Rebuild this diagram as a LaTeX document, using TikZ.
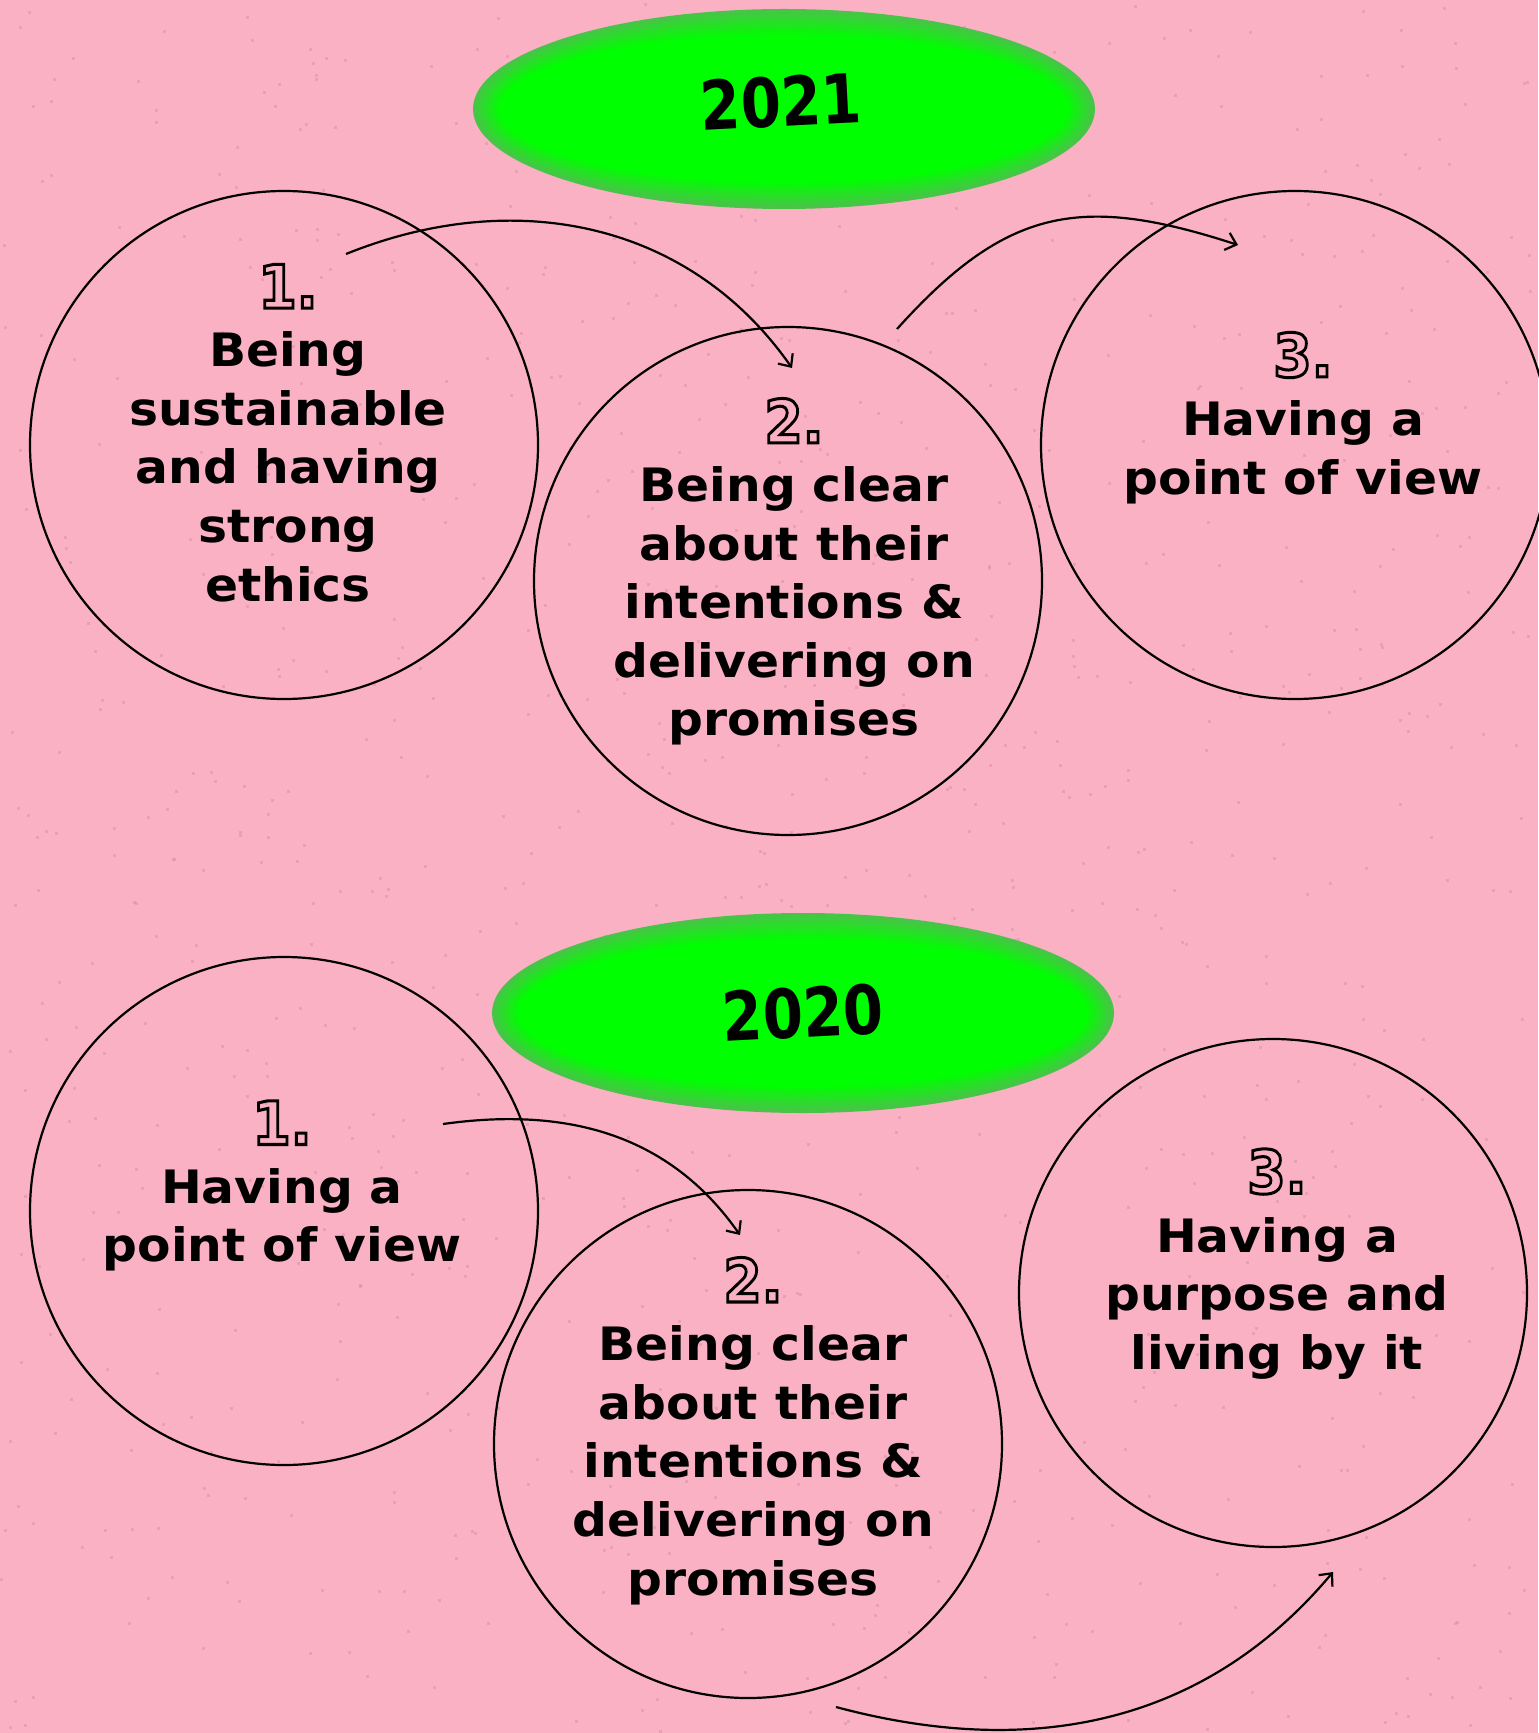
\documentclass[tikz,border=0pt]{standalone}
\usepackage{fontspec}
\usepackage{graphicx}
\setmainfont{DejaVu Sans}[FakeStretch=1.06]
\newfontfamily\numfont{DejaVu Sans}
\usetikzlibrary{arrows.meta}

\definecolor{paper}{RGB}{250,177,196}
\definecolor{speck}{RGB}{214,140,165}
\definecolor{lime}{RGB}{0,255,0}
\definecolor{limeedge}{RGB}{72,196,72}

% hollow numbers: stroke the glyph outlines only
\newcommand{\hollow}[1]{{\numfont\bfseries\fontsize{30}{30}\selectfont
  \special{pdf:literal direct 1 Tr 1.5 w}\scalebox{0.92}[1]{#1}\special{pdf:literal direct 0 Tr}}}
\newcommand{\yeartext}[1]{\scalebox{0.85}[1]{#1}}

\begin{document}
\begin{tikzpicture}[x=0.5pt, y=0.5pt,
  ring/.style={draw, circle, line width=1.1pt, minimum size=254pt, inner sep=0pt},
  words/.style={align=center, inner sep=0pt, font=\bfseries\fontsize{23}{29.3}\selectfont},
  year/.style={inner sep=0pt, rotate=3, font=\numfont\bfseries\fontsize{34}{34}\selectfont},
  link/.style={line width=1.1pt, -{Straight Barb[length=5pt, width=9pt]}}]

\useasboundingbox (0,0) rectangle (1538,-1733);
\fill[paper] (0,0) rectangle (1538,-1733);

% grain
\pgfmathsetseed{11}
\foreach \k in {1,...,900}
  \fill[speck, opacity=0.45] (rnd*1538, -rnd*1733) rectangle ++(3,-3);

% green year blobs
\coordinate (e21) at (784,-109);
\coordinate (e20) at (803,-1013);
\foreach \e in {e21, e20} {
  \foreach \i in {0,...,10} {
    \pgfmathtruncatemacro\mix{\i*10}
    \fill[lime!\mix!limeedge] (\e) ellipse ({311-\i*2.6} and {100-\i*2.6});
  }
}
\node[year] (y21) at (781,-102) {\yeartext{2021}};
\node[year] (y20) at (803,-1013) {\yeartext{2020}};

% 2021 row
\node[ring] (a1) at (284,-445) {};
\node[ring] (a2) at (788,-581) {};
\node[ring] (a3) at (1295,-445) {};

\node[words] (w1) at (288,-433) {\hollow{1.}\\Being\\sustainable\\and having\\strong\\ethics};
\node[words] (w2) at (794,-572) {\hollow{2.}\\Being clear\\about their\\intentions \&\\delivering on\\promises};
\node[words] (w3) at (1303,-418) {\hollow{3.}\\Having a\\point of view};

% 2020 row
\node[ring] (b1) at (284,-1211) {};
\node[ring] (b2) at (748,-1444) {};
\node[ring] (b3) at (1273,-1293) {};

\node[words] (v1) at (282,-1186) {\hollow{1.}\\Having a\\point of view};
\node[words] (v2) at (753,-1431) {\hollow{2.}\\Being clear\\about their\\intentions \&\\delivering on\\promises};
\node[words] (v3) at (1277,-1264) {\hollow{3.}\\Having a\\purpose and\\living by it};

% arrow ends
\coordinate (p1) at (346,-254);
\coordinate (q1) at (792,-368);
\coordinate (p2) at (897,-329);
\coordinate (q2) at (1238,-245);
\coordinate (p3) at (443,-1124);
\coordinate (q3) at (740,-1235);
\coordinate (p4) at (836,-1707);
\coordinate (q4) at (1333,-1572);

\draw[link] (p1) to[out=22, in=125] (q1);
\draw[link] (p2) to[out=48, in=162, looseness=1.2] (q2);
\draw[link] (p3) to[out=8, in=125] (q3);
\draw[link] (p4) to[out=-15, in=-130] (q4);
\end{tikzpicture}
\end{document}
